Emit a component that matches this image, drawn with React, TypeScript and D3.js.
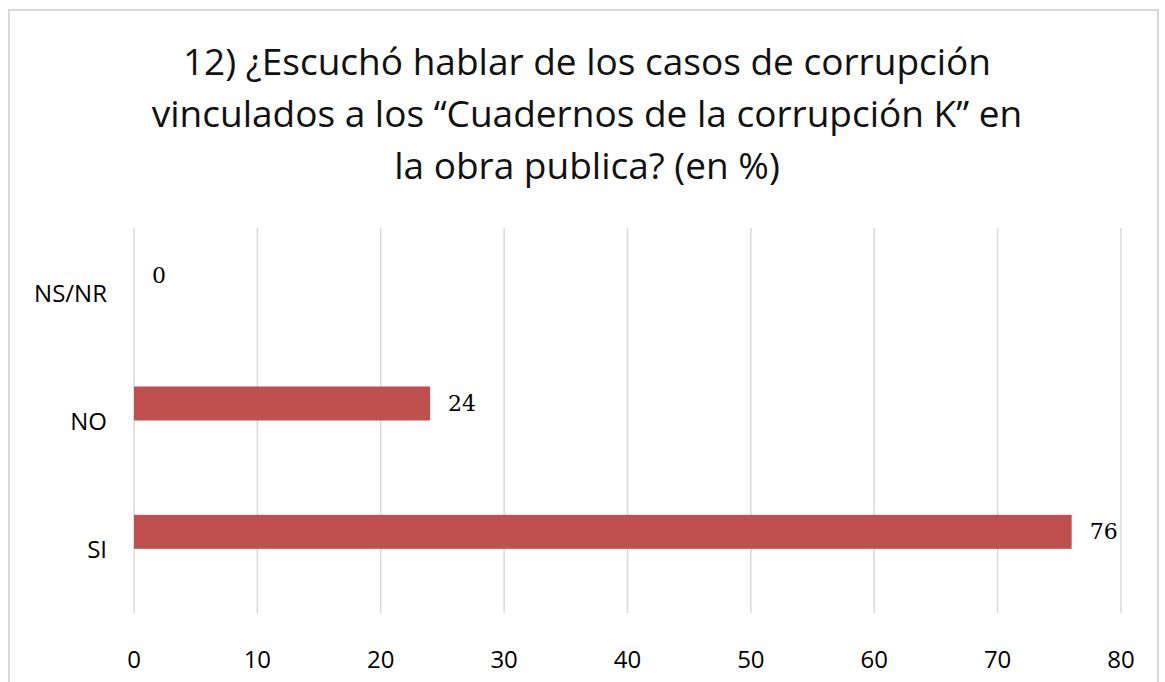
import React from "react";
import * as d3 from "d3";

const categories = ["NS/NR", "NO", "SI"];
const values = [0, 24, 76];
const xTicks = [0, 10, 20, 30, 40, 50, 60, 70, 80];
const titleLines = [
  "12) ¿Escuchó hablar de los casos de corrupción",
  "vinculados a los “Cuadernos de la corrupción K” en",
  "la obra publica? (en %)",
];

export default function App() {
  const W = 1165, H = 682;
  const x = d3.scaleLinear().domain([0, 80]).range([134, 1121]);
  const y = d3.scaleBand<string>().domain(categories).range([228, 613]);
  const step = y.step();
  const font = "'Open Sans', 'Noto Sans', sans-serif";
  return (
    <svg width={W} height={H} style={{ position: "absolute", left: 0, top: 0, background: "#fff" }}>
      <rect x={9} y={10} width={1149} height={700} fill="#fff" stroke="#D9D9D9" strokeWidth={2} />
      {titleLines.map((t, i) => (
        <text key={i} x={587} y={75 + i * 52} textAnchor="middle" fontFamily={font} fontSize={37} fill="#111">
          {t}
        </text>
      ))}
      {xTicks.map((t) => (
        <line key={t} x1={x(t)} x2={x(t)} y1={228} y2={613} stroke="#D9D9D9" strokeWidth={1.5} />
      ))}
      {categories.map((c, i) => (
        <g key={c}>
          <rect
            x={x(0)}
            y={(y(c) as number) + step * 0.235}
            width={x(values[i]) - x(0)}
            height={step * 0.265}
            fill="#C0504D"
          />
          <text
            x={x(values[i]) + 18}
            y={(y(c) as number) + step * 0.235 + step * 0.1325}
            dominantBaseline="central"
            fontFamily="'DejaVu Serif', serif"
            fontSize={22}
            fill="#000"
          >
            {values[i]}
          </text>
          <text
            x={107}
            y={(y(c) as number) + step / 2}
            dominantBaseline="central"
            textAnchor="end"
            fontFamily={font}
            fontSize={24}
            fill="#000"
          >
            {c}
          </text>
        </g>
      ))}
      {xTicks.map((t) => (
        <text key={t} x={x(t)} y={658} dominantBaseline="central" textAnchor="middle" fontFamily={font} fontSize={24} fill="#000">
          {t}
        </text>
      ))}
    </svg>
  );
}
